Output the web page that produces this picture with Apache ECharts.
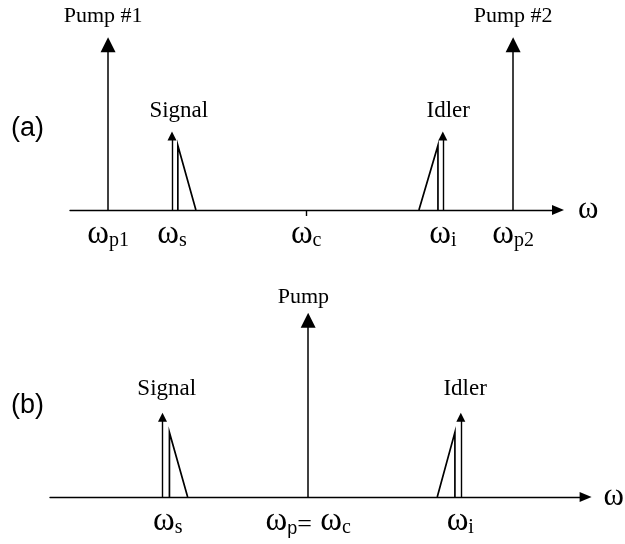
<!DOCTYPE html>
<html>
<head>
<meta charset="utf-8">
<script src="https://cdn.jsdelivr.net/npm/echarts@6/dist/echarts.min.js"></script>
<style>
html,body{margin:0;padding:0;background:#fff;}
#chart{width:625px;height:544px;}
</style>
</head>
<body>
<div id="chart"></div>
<script>
// panel (a) - two pumps, x in arbitrary frequency units (0..100), heights in 0..11
var pumpsA = [[7.8, 8.7], [90.8, 8.7]];          // [x, arrow end]
var pumpLabelsA = [[6.8, 10.2, 'Pump #1'], [90.8, 10.2, 'Pump #2']];
var wavesA = [[20.9, 3.9], [76.4, 3.9]];          // signal / idler arrows
var slopesA = [[22.1, 25.8, 3.4], [75.4, 71.5, 3.4]]; // [vertical x, foot x, height]
var waveLabelsA = [[22.3, 5.2, 'Signal'], [77.5, 5.2, 'Idler']];
var ticksA = [7.8, 20.9, 48.4, 76.4, 90.8];
var tickSubA = ['p1', 's', 'c', 'i', 'p2'];
var centerTickA = [48.4];

// panel (b) - single pump at the centre
var pumpsB = [[48.2, 9.3]];
var pumpLabelsB = [[47.3, 10.5, 'Pump']];
var wavesB = [[21.0, 4.2], [76.7, 4.2]];
var slopesB = [[22.3, 25.7, 3.4], [75.6, 72.3, 3.4]];
var waveLabelsB = [[21.8, 5.7, 'Signal'], [77.5, 5.7, 'Idler']];
var ticksB = [22.0, 48.2, 76.6];
var tickSubB = ['s', 'pc', 'i'];

var serif = 'Liberation Serif';

function arrowSeries(list, idx, size, width) {
  return {
    type: 'lines', coordinateSystem: 'cartesian2d',
    xAxisIndex: idx, yAxisIndex: idx,
    symbol: ['none', 'triangle'], symbolSize: size,
    lineStyle: {color: '#000', width: width, opacity: 1, curveness: 0},
    silent: true, animation: false,
    data: list.map(function (d) { return {coords: [[d[0], 0], [d[0], d[1]]]}; })
  };
}
function slopeSeries(list, idx) {
  return {
    type: 'lines', coordinateSystem: 'cartesian2d', polyline: true,
    xAxisIndex: idx, yAxisIndex: idx, symbol: 'none',
    lineStyle: {color: '#000', width: 1.7, opacity: 1},
    silent: true, animation: false,
    data: list.map(function (d) { return {coords: [[d[0], 0], [d[0], d[2]], [d[1], 0]]}; })
  };
}
function textSeries(list, idx, size) {
  return {
    type: 'scatter', xAxisIndex: idx, yAxisIndex: idx,
    symbolSize: 0, silent: true, animation: false,
    itemStyle: {color: '#000', opacity: 1},
    label: {show: true, position: 'inside', color: '#000', opacity: 1, fontFamily: serif, fontSize: size,
      textBorderWidth: 0, textBorderColor: 'transparent',
      formatter: function (p) { return p.data[2]; }},
    data: list
  };
}
function tickFormatter(ticks, subs) {
  return function (v) {
    var i = ticks.indexOf(v);
    if (i < 0) return '';
    if (subs[i] === 'pc') return '{w|ω}{subs|p}{eq|=}{w| ω}{sub|c}';
    return '{w|ω}{sub|' + subs[i] + '}';
  };
}
var richLabel = {
  w: {fontFamily: serif, fontSize: 33, color: '#000', verticalAlign: 'bottom', lineHeight: 36},
  sub: {fontFamily: serif, fontSize: 20, color: '#000', verticalAlign: 'bottom', lineHeight: 36, padding: [11, 0, 0, 0]},
  subs: {fontFamily: 'Liberation Sans', fontSize: 18, color: '#000', verticalAlign: 'bottom', lineHeight: 36, padding: [11, 0, 0, 0]},
  eq: {fontFamily: serif, fontSize: 26, color: '#000', verticalAlign: 'bottom', lineHeight: 36}
};
function xAxisOf(idx, ticks, subs, tickVals, gap) {
  return {
    type: 'value', gridIndex: idx, min: 0, max: 100,
    splitLine: {show: false},
    axisLine: {show: true, onZero: false, symbol: ['none', 'triangle'], symbolSize: [10, 12],
      lineStyle: {color: '#000', width: 1.4}},
    axisTick: {show: tickVals.length > 0, customValues: tickVals, length: 6,
      lineStyle: {color: '#000', width: 1.4}},
    axisLabel: {customValues: ticks, margin: 5, formatter: tickFormatter(ticks, subs), rich: richLabel},
    name: 'ω', nameLocation: 'end', nameGap: gap,
    nameTextStyle: {fontFamily: serif, fontSize: 31, color: '#000', verticalAlign: 'middle', align: 'left'}
  };
}

var chart = echarts.init(document.getElementById('chart'), null, {renderer: 'canvas'});
chart.setOption({
  backgroundColor: '#fff',
  animation: false,
  title: [
    {text: '(a)', left: 6, top: 110, textStyle: {fontFamily: 'Liberation Sans', fontSize: 27, fontWeight: 'normal', color: '#000'}},
    {text: '(b)', left: 6, top: 387, textStyle: {fontFamily: 'Liberation Sans', fontSize: 27, fontWeight: 'normal', color: '#000'}}
  ],
  grid: [
    {left: 70, width: 488, top: 1, height: 209},
    {left: 50, width: 537, top: 288, height: 209}
  ],
  xAxis: [
    xAxisOf(0, ticksA, tickSubA, centerTickA, 20),
    xAxisOf(1, ticksB, tickSubB, [], 18)
  ],
  yAxis: [
    {type: 'value', gridIndex: 0, min: 0, max: 11, show: false},
    {type: 'value', gridIndex: 1, min: 0, max: 11, show: false}
  ],
  series: [
    arrowSeries(pumpsA, 0, 15, 1.5),
    arrowSeries(wavesA, 0, 9, 1.4),
    slopeSeries(slopesA, 0),
    textSeries(pumpLabelsA, 0, 22),
    textSeries(waveLabelsA, 0, 23),
    arrowSeries(pumpsB, 1, 15, 1.5),
    arrowSeries(wavesB, 1, 9, 1.4),
    slopeSeries(slopesB, 1),
    textSeries(pumpLabelsB, 1, 22),
    textSeries(waveLabelsB, 1, 23)
  ]
});
</script>
</body>
</html>
